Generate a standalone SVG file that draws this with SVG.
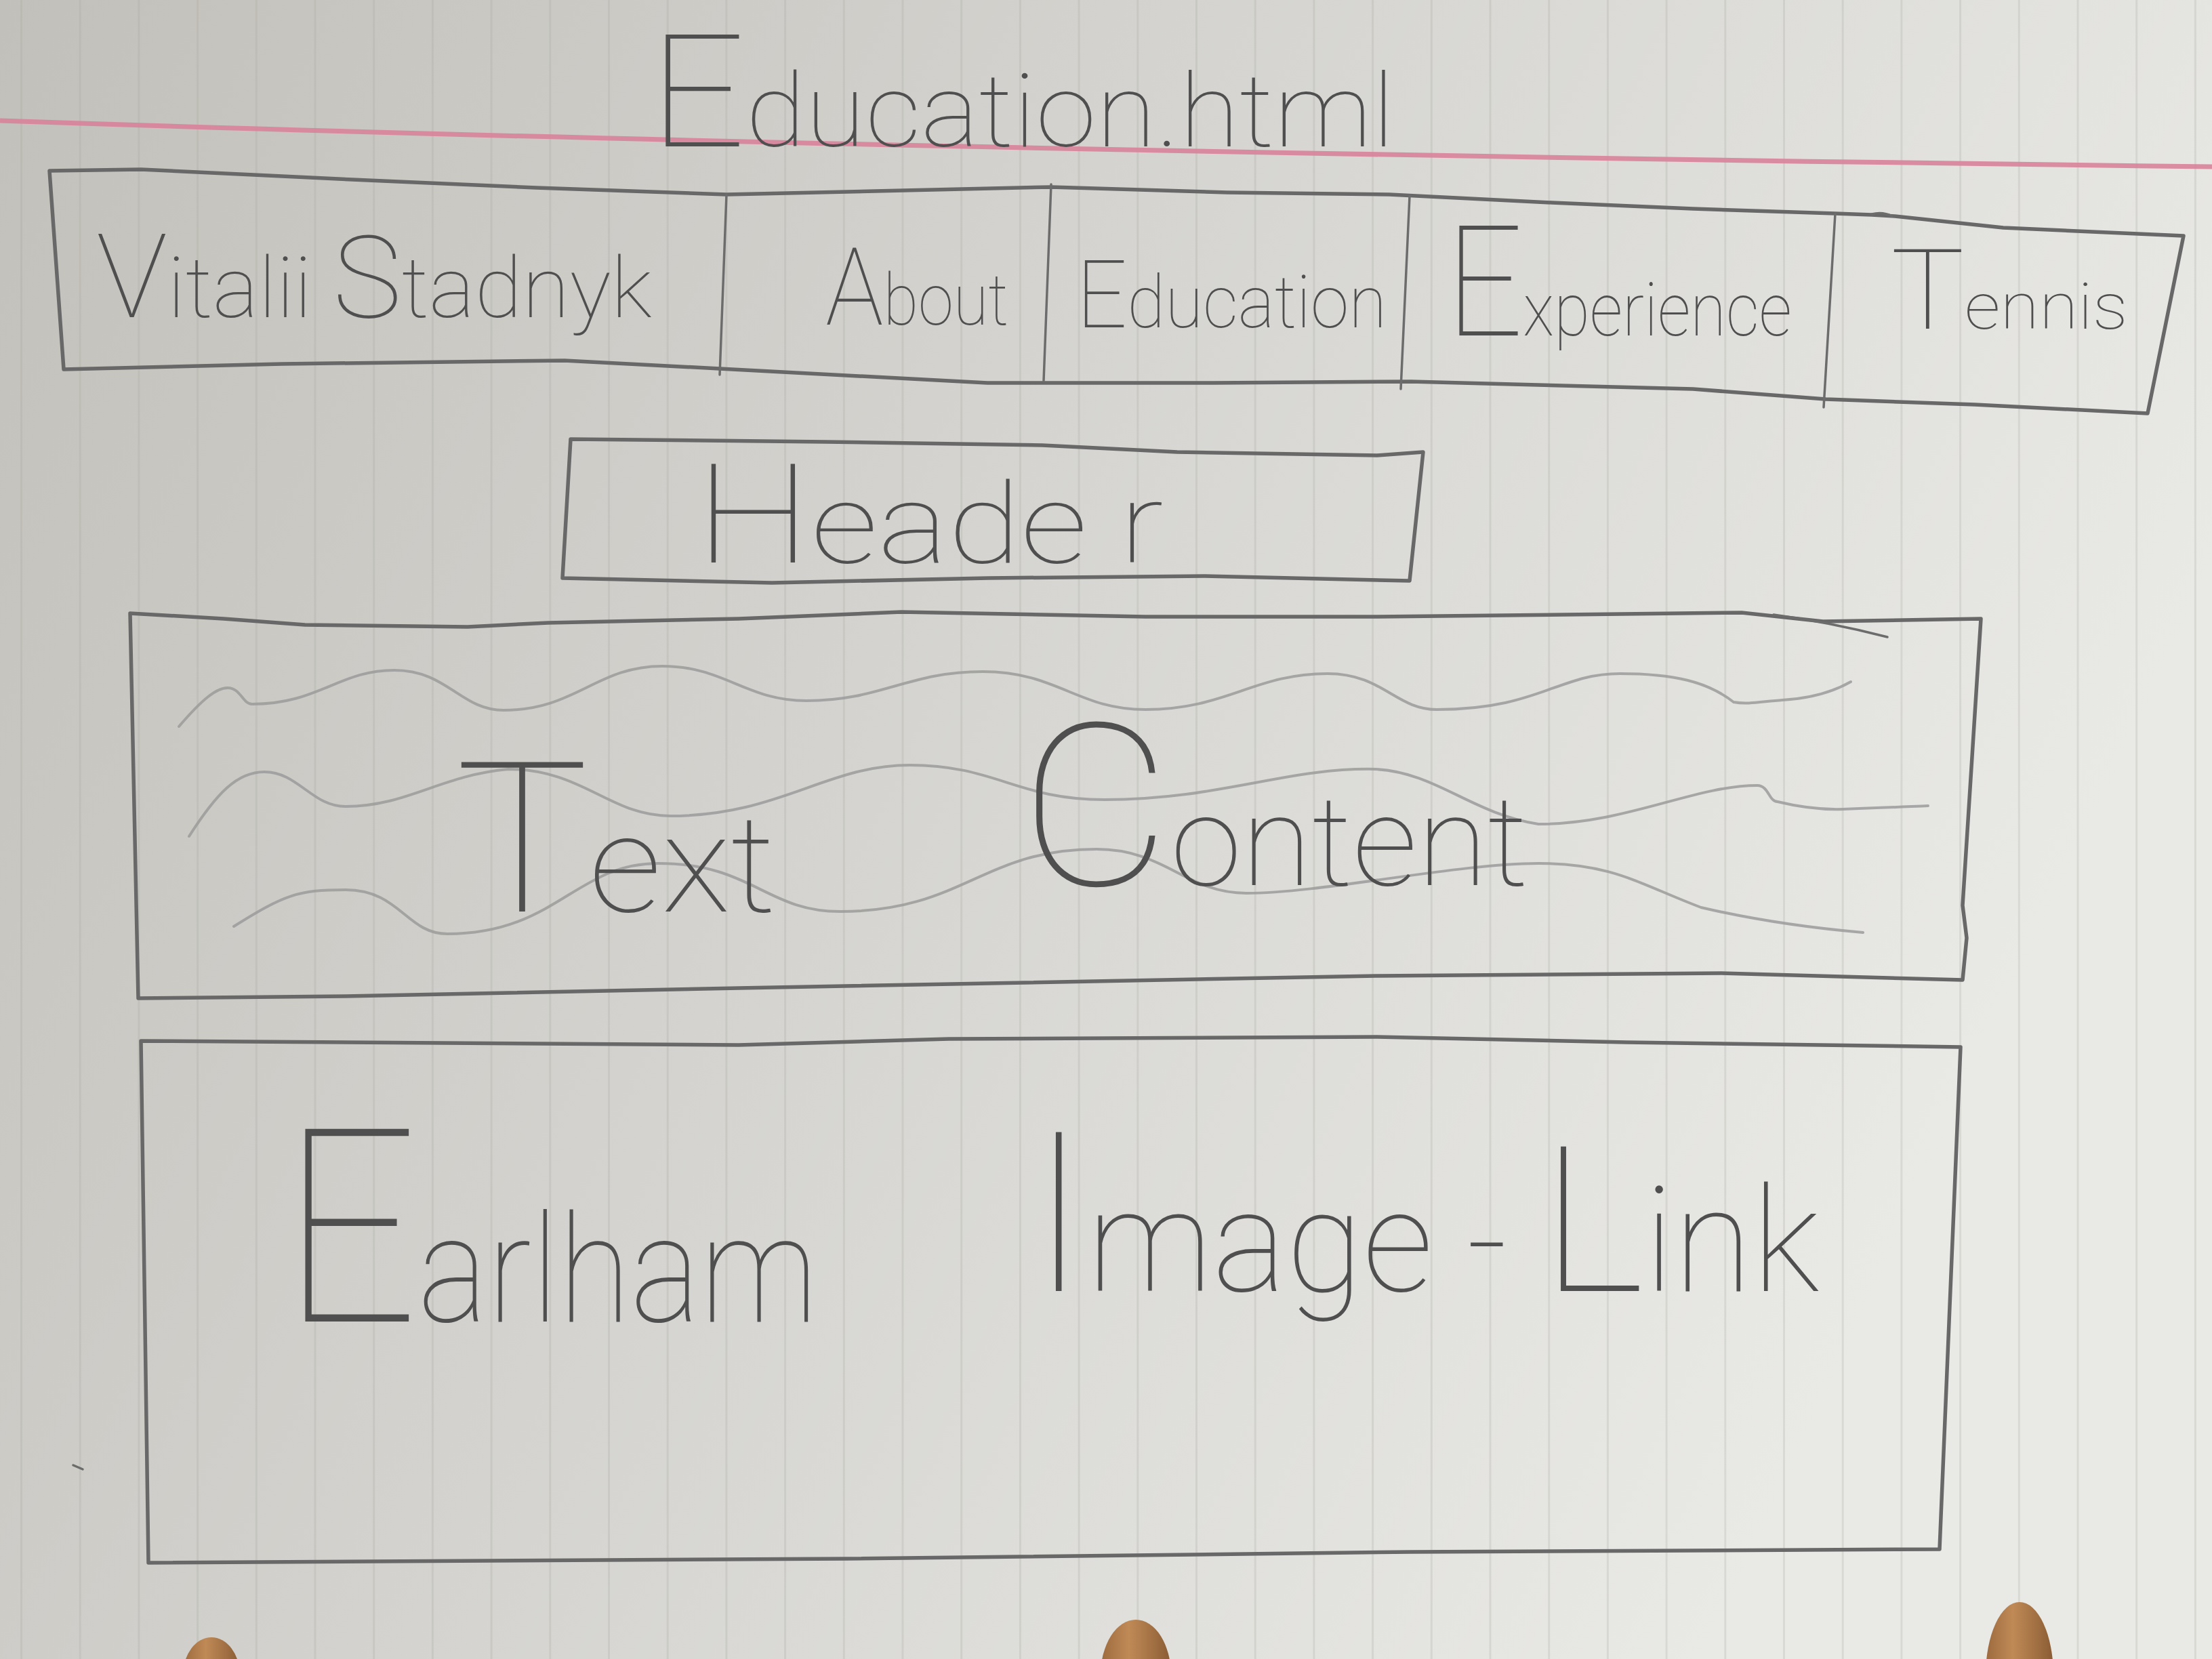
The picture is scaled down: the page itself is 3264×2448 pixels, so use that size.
<svg xmlns="http://www.w3.org/2000/svg" width="3264" height="2448" viewBox="0 0 3264 2448">
  <defs>
    <linearGradient id="paper" x1="0" y1="0" x2="1" y2="0.35">
      <stop offset="0" stop-color="#c2c0ba"/>
      <stop offset="0.45" stop-color="#d3d2ce"/>
      <stop offset="1" stop-color="#e9e9e6"/>
    </linearGradient>
    <pattern id="rules" patternUnits="userSpaceOnUse" x="30" y="0" width="86.7" height="2448">
      <line x1="1.5" y1="0" x2="1.5" y2="2448" stroke="#9e9d98" stroke-width="3" stroke-opacity="0.22"/>
    </pattern>
    <linearGradient id="hole" x1="0" y1="0" x2="1" y2="0">
      <stop offset="0" stop-color="#9c6a3e"/>
      <stop offset="0.4" stop-color="#c08a56"/>
      <stop offset="1" stop-color="#8a5c34"/>
    </linearGradient>
    <style>
      .pencil { fill: none; stroke: #686868; stroke-width: 5.5; stroke-linejoin: round; stroke-linecap: round; }
      .thin { fill: none; stroke: #6c6c6c; stroke-width: 3.5; stroke-linecap: round; }
      .wave { fill: none; stroke: #9b9b9b; stroke-width: 4; stroke-linecap: round; stroke-opacity: 0.85; }
      .hand { font-family: Roboto, Lato, Inter, "DejaVu Sans", sans-serif; font-weight: 100; fill: #4f4f4f; }
    </style>
  </defs>

  <!-- paper sheet with faint ruling -->
  <rect width="3264" height="2448" fill="url(#paper)"/>
  <rect width="3264" height="2448" fill="url(#rules)"/>

  <!-- red margin line -->
  <path d="M0,178 Q1300,222 3264,246" fill="none" stroke="#d8829a" stroke-width="7" stroke-opacity="0.9"/>

  <!-- binder holes showing the desk underneath -->
  <g id="holes">
    <ellipse cx="312" cy="2472" rx="42" ry="56" fill="url(#hole)"/>
    <ellipse cx="1676" cy="2472" rx="52" ry="82" fill="url(#hole)"/>
    <ellipse cx="2980" cy="2472" rx="50" ry="108" fill="url(#hole)"/>
  </g>

  <!-- page title -->
  <g id="title">
    <text class="hand" x="958" y="216" textLength="1100" lengthAdjust="spacingAndGlyphs"><tspan font-size="232">E</tspan><tspan font-size="150">ducation.html</tspan></text>
  </g>

  <!-- navigation bar -->
  <g id="navbar">
    <path class="pencil" d="M73,252 L208,250 520,265 791,277 1072,287 1291,282 1551,276 1811,284 2050,287 2290,299 2498,308 2708,315 2762,317 2796,319 2956,336 3222,348 L3169,610 L2914,597 2694,589 2498,574 2082,563 1790,565 1457,565 1062,544 833,532 416,537 94,545 Z"/>
    <path class="thin" d="M1072,287 L1062,553"/>
    <path class="thin" d="M1551,272 L1540,562"/>
    <path class="thin" d="M2080,289 L2067,574"/>
    <path class="thin" d="M2708,315 L2691,601"/>
    <path class="thin" d="M2762,316 q16,-4 30,3"/>
    <g id="nav-name">
      <text class="hand" x="142" y="468" textLength="820" lengthAdjust="spacingAndGlyphs"><tspan font-size="172">V</tspan><tspan font-size="125">italii </tspan><tspan font-size="168">S</tspan><tspan font-size="125">tadnyk</tspan></text>
    </g>
    <g id="nav-about">
      <text class="hand" x="1218" y="479" textLength="270" lengthAdjust="spacingAndGlyphs"><tspan font-size="160">A</tspan><tspan font-size="105">bout</tspan></text>
    </g>
    <g id="nav-education">
      <text class="hand" x="1588" y="483" textLength="458" lengthAdjust="spacingAndGlyphs"><tspan font-size="140">E</tspan><tspan font-size="108">ducation</tspan></text>
    </g>
    <g id="nav-experience">
      <text class="hand" x="2134" y="495" textLength="510" lengthAdjust="spacingAndGlyphs"><tspan font-size="228">E</tspan><tspan font-size="110">xperience</tspan></text>
    </g>
    <g id="nav-tennis">
      <text class="hand" x="2790" y="485" textLength="350" lengthAdjust="spacingAndGlyphs"><tspan font-size="165">T</tspan><tspan font-size="95">ennis</tspan></text>
    </g>
  </g>

  <!-- header block -->
  <g id="header">
    <path class="pencil" d="M842,648 L1219,652 1538,657 1737,667 2032,672 2100,667 L2080,857 L1777,850 1458,853 1139,860 830,853 Z"/>
    <text class="hand" x="1026" y="830" textLength="691" lengthAdjust="spacingAndGlyphs"><tspan font-size="205">H</tspan><tspan font-size="165">eade r</tspan></text>
  </g>

  <!-- text content block with placeholder scribbles -->
  <g id="text-content">
    <path class="pencil" d="M192,905 L330,913 450,922 690,925 809,919 1090,913 1330,903 1690,910 2030,910 2570,904 2690,917 2923,913 L2896,1336 2902,1384 2896,1446 L2540,1436 2030,1440 1090,1458 510,1470 204,1473 Z"/>
    <path class="thin" d="M2617,907 Q2700,918 2785,940"/>
    <path class="wave" d="M264,1072 C300,1030 320,1015 336,1015 C355,1015 358,1039 372,1039 C470,1039 500,989 582,989 C660,989 680,1048 743,1048 C850,1048 880,983 977,983 C1070,983 1100,1034 1190,1034 C1300,1034 1340,991 1450,991 C1560,991 1590,1047 1690,1047 C1810,1047 1850,994 1959,994 C2040,994 2060,1047 2120,1047 C2270,1047 2300,994 2390,994 C2470,994 2520,1006 2558,1036 C2580,1040 2600,1035 2630,1033 C2680,1030 2710,1018 2731,1006"/>
    <path class="wave" d="M279,1234 C320,1170 350,1139 390,1139 C440,1139 460,1190 510,1190 C600,1190 650,1144 750,1135 C860,1135 900,1204 989,1204 C1150,1204 1220,1129 1342,1129 C1470,1129 1500,1180 1630,1180 C1800,1180 1900,1132 2030,1135 C2120,1140 2170,1200 2270,1216 C2400,1216 2500,1159 2593,1159 C2610,1159 2610,1183 2623,1183 C2660,1192 2690,1195 2720,1194 C2780,1192 2820,1190 2845,1189"/>
    <path class="wave" d="M345,1367 C420,1320 440,1313 510,1313 C590,1313 600,1378 660,1378 C820,1378 850,1274 971,1274 C1110,1274 1130,1345 1240,1345 C1420,1345 1450,1253 1618,1253 C1720,1253 1750,1318 1839,1318 C1950,1318 2150,1274 2270,1274 C2380,1274 2420,1305 2510,1339 C2600,1360 2680,1370 2749,1376"/>
    <text class="hand" x="672" y="1345" textLength="473" lengthAdjust="spacingAndGlyphs"><tspan font-size="310">T</tspan><tspan font-size="200">ext</tspan></text>
    <text class="hand" x="1505" y="1306" textLength="750" lengthAdjust="spacingAndGlyphs"><tspan font-size="335">C</tspan><tspan font-size="185">ontent</tspan></text>
  </g>

  <!-- image link block -->
  <g id="image-link">
    <path class="pencil" d="M208,1536 L1090,1542 1400,1533 2030,1530 2400,1538 2893,1545 L2862,2286 L2082,2290 1249,2300 219,2306 Z"/>
    <text class="hand" x="416" y="1950" textLength="791" lengthAdjust="spacingAndGlyphs"><tspan font-size="400">E</tspan><tspan font-size="220">arlham</tspan></text>
    <text class="hand" x="1520" y="1905" textLength="1165" lengthAdjust="spacingAndGlyphs"><tspan font-size="330">I</tspan><tspan font-size="210">mage - </tspan><tspan font-size="300">L</tspan><tspan font-size="215">ink</tspan></text>
  </g>

  <!-- stray pencil mark -->
  <path class="thin" d="M108,2162 L122,2168"/>
</svg>
